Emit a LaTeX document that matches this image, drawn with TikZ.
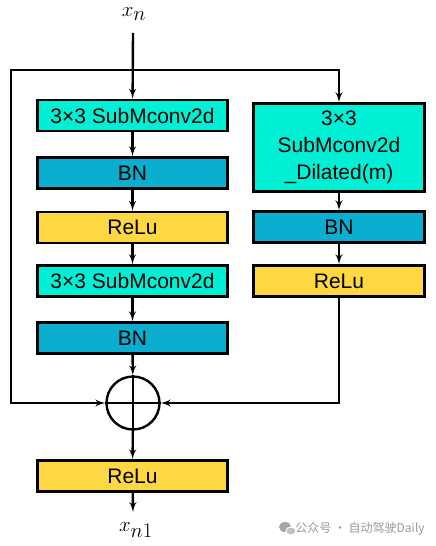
\documentclass[tikz,border=0pt]{standalone}
\usepackage{fontspec}
\setmainfont{Liberation Sans}
\newfontfamily\cjkfont{Noto Sans CJK SC}
\usepackage{xcolor}
\usepackage{tikz}
\usetikzlibrary{arrows}
\tikzset{>=latex'}
\definecolor{convcol}{RGB}{0,240,214}
\definecolor{bncol}{RGB}{10,175,208}
\definecolor{relucol}{RGB}{253,216,67}
\tikzset{
	blk/.style={draw,line width=2.6pt,minimum width=190pt,minimum height=31pt,inner sep=0pt,align=center,font=\fontsize{21}{27}\selectfont},
	convbox/.style={blk,fill=convcol},
	bnbox/.style={blk,fill=bncol},
	relubox/.style={blk,fill=relucol},
	iolabel/.style={font=\fontsize{20}{20}\selectfont},
}

\begin{document}
\begin{tikzpicture}[x=1pt,y=-1pt,line width=2.4pt]
	\useasboundingbox (0,0) rectangle (436,546);
	\node[iolabel] (xn) at (134,14) {$x_{\textstyle n}$};
	\coordinate (in) at (133,33);
	\coordinate (split) at (133,70);
	\coordinate (skipL) at (11,70);
	% left branch
	\node[convbox] (c1) at (132.5,115.5) {3×3 SubMconv2d};
	\node[bnbox] (bn1) at (132.5,173) {BN};
	\node[relubox] (relu1) at (132.5,227.5) {ReLu};
	\node[convbox] (c2) at (132.5,281) {3×3 SubMconv2d};
	\node[bnbox] (bn2) at (132.5,338) {BN};
	\node[draw,circle,minimum size=53pt,inner sep=0pt] (add) at (133,403) {};
	\node[relubox] (relu2) at (132.5,476) {ReLu};
	\coordinate (out) at (133,512);
	\node[iolabel] (xn1) at (136,530) {$x_{\textstyle n1}$};
	% right branch
	\node[convbox,minimum width=171pt,minimum height=88pt] (r1) at (339,147.5) {3×3\\SubMconv2d\\\_Dilated(m)};
	\node[bnbox,minimum width=171pt] (r2) at (339,227) {BN};
	\node[relubox,minimum width=171pt] (r3) at (339,281) {ReLu};
	% connectors
	\draw[->] (in) -- (c1);
	\draw[->] (c1) -- (bn1);
	\draw[->] (bn1) -- (relu1);
	\draw[->] (relu1) -- (c2);
	\draw[->] (c2) -- (bn2);
	\draw[->] (bn2) -- (add);
	\draw (add.north) -- (add.south);
	\draw (add.west) -- (add.east);
	\draw[->] (add) -- (relu2);
	\draw[->] (relu2) -- (out);
	\draw[->] (split) -| (r1);
	\draw[->] (split) -- (skipL) |- (add.west);
	\draw[->] (r1) -- (r2);
	\draw[->] (r2) -- (r3);
	\draw[->] (r3) |- (add.east);
	% watermark
	\fill[black!35] (285,527) ellipse (6pt and 5pt);
	\fill[black!25,draw=white,line width=1pt] (291,531) ellipse (5pt and 4pt);
	\node[text=black!40,font=\cjkfont\fontsize{12}{12}\selectfont] (mark) at (360,529) {公众号 · 自动驾驶Daily};
\end{tikzpicture}
\end{document}
